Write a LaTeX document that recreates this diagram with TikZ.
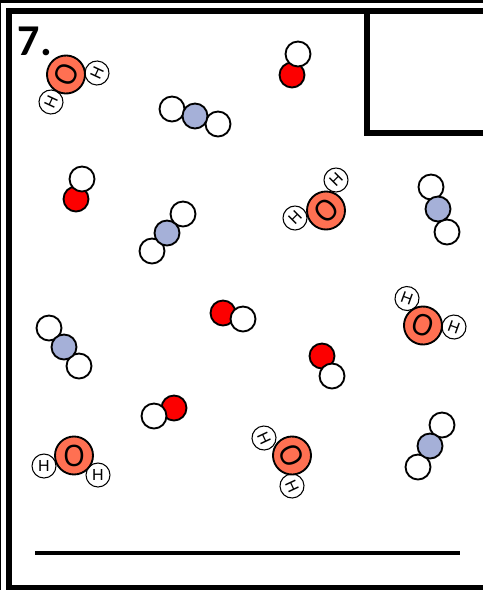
\documentclass[tikz,border=0pt]{standalone}
\usepackage{fontspec}
\setmainfont{Liberation Sans}
\newfontfamily\numberfont{Carlito}
\usepackage{xcolor}
\usepackage{graphicx}
\definecolor{oxysalmon}{RGB}{255,112,82}
\definecolor{nitroblue}{RGB}{165,176,216}
\definecolor{atomred}{RGB}{252,0,0}
\newcommand{\oxyletter}{\scalebox{0.88}[1]{O}}
\begin{document}
\begin{tikzpicture}[
    x=0.75pt, y=-0.75pt,
    atom/.style={circle, draw=black, line width=1.4pt, inner sep=0pt, minimum size=#1*1.5pt},
    oxygen/.style={atom=19, fill=oxysalmon, font=\fontsize{23}{23}\selectfont},
    hydrogen/.style={atom=12, fill=white, line width=0.8pt, font=\fontsize{12}{12}\selectfont},
    whiteatom/.style={atom=12.5, fill=white},
    redatom/.style={atom=12.5, fill=atomred},
    blueatom/.style={atom=12.5, fill=nitroblue},
    frameline/.style={line width=4.5pt, black},
]
    \useasboundingbox (0,0) rectangle (483,590);

    % Page frame
    \draw[line width=2.25pt] (0,1.5) -- (483,1.5);
    \draw[line width=1pt] (0.6,0) -- (0.6,590);
    \draw[frameline] (9,590) -- (9,11) -- (483,11);
    \draw[frameline] (6,587.5) -- (483,587.5);
    \draw[frameline] (483,133) -- (367,133) -- (367,11);
    \draw[line width=2.3pt] (35,553) -- (460,553);

    \node[font=\numberfont\bfseries\fontsize{33}{33}\selectfont, anchor=base west] (number) at (13,55) {7.};

    % Water molecules
    \node[hydrogen, rotate=65] (h1a) at (97,73) {H};
    \node[hydrogen, rotate=65] (h1b) at (51,102) {H};
    \node[oxygen, rotate=65] (o1) at (66,74.5) {\oxyletter};

    \node[hydrogen, rotate=45] (h2a) at (336,180) {H};
    \node[hydrogen, rotate=45] (h2b) at (295,218) {H};
    \node[oxygen, rotate=45] (o2) at (326,210.5) {\oxyletter};

    \node[hydrogen, rotate=-20] (h3a) at (407,298.5) {H};
    \node[hydrogen, rotate=-20] (h3b) at (454,327) {H};
    \node[oxygen, rotate=-20] (o3) at (423,325.5) {\oxyletter};

    \node[hydrogen] (h4a) at (44,466) {H};
    \node[hydrogen] (h4b) at (98,475) {H};
    \node[oxygen] (o4) at (74,455.5) {\oxyletter};

    \node[hydrogen, rotate=-65] (h5a) at (264,438) {H};
    \node[hydrogen, rotate=-65] (h5b) at (292,486) {H};
    \node[oxygen, rotate=-65] (o5) at (292,455.5) {\oxyletter};

    % Red and white pairs
    \node[redatom] (r1) at (292,75) {};
    \node[whiteatom] (w1) at (298,54) {};
    \node[redatom] (r2) at (76,199) {};
    \node[whiteatom] (w2) at (82,179) {};
    \node[redatom] (r3) at (223,313) {};
    \node[whiteatom] (w3) at (243,319) {};
    \node[redatom] (r4) at (322,356) {};
    \node[whiteatom] (w4) at (332,376) {};
    \node[redatom] (r5) at (174,408) {};
    \node[whiteatom] (w5) at (154,416) {};

    % Blue triples
    \foreach \nm/\cx/\cy/\ax/\ay/\bx/\by in {
        a/195/116/172/109/218/124,
        b/167/233/183/214/152/251,
        c/438/209/431/187/447/232,
        d/64/347/49/328/79/366,
        e/430/446/442/425/418/467}{
        \node[whiteatom] (t\nm1) at (\ax,\ay) {};
        \node[whiteatom] (t\nm2) at (\bx,\by) {};
        \node[blueatom] (t\nm0) at (\cx,\cy) {};
    }
\end{tikzpicture}
\end{document}
